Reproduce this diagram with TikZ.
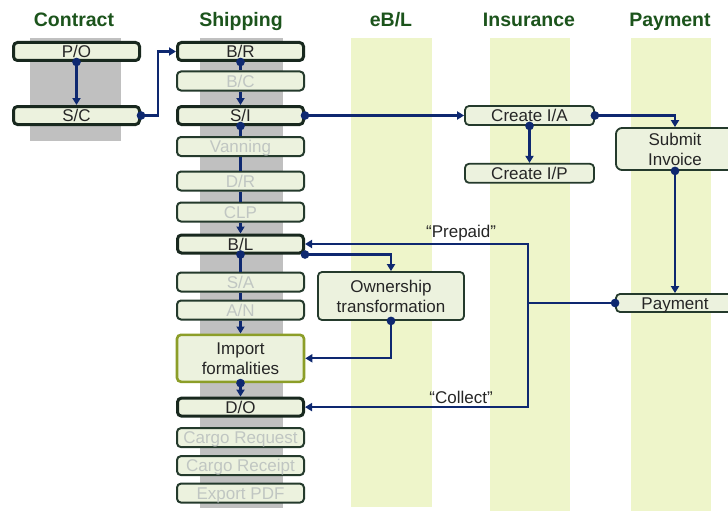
\documentclass[tikz,border=0pt]{standalone}
\usepackage{fontspec}
\setmainfont{Liberation Sans}
\usepackage{tikz}
\usetikzlibrary{arrows.meta, positioning}
\definecolor{navy}{RGB}{14,40,112}
\definecolor{boxfill}{RGB}{236,242,222}
\definecolor{boxdark}{RGB}{24,40,30}
\definecolor{boxline}{RGB}{36,58,44}
\definecolor{fainttext}{RGB}{192,198,194}
\definecolor{lanegreen}{RGB}{238,245,202}
\definecolor{lanegray}{RGB}{192,192,192}
\definecolor{headgreen}{RGB}{28,84,28}
\definecolor{olive}{RGB}{140,158,40}
\tikzset{
      base box/.style={
		draw=boxline,
		fill=boxfill,
		rounded corners=4pt,
		inner sep=1pt,
		text=black!85,
		font=\fontsize{17}{20}\selectfont,
		align=center,
	  },
      one line/.style={text height=14pt, text depth=1.8pt}, % same baseline in every box
      main box/.style={base box, one line, draw=boxdark, line width=3pt, minimum width=126pt, minimum height=18pt},
      faint box/.style={base box, one line, line width=2pt, text=fainttext, minimum width=127pt, minimum height=19pt},
      import box/.style={base box, draw=olive, line width=2.6pt, minimum width=127pt, minimum height=47pt},
      task box/.style={base box, line width=1.8pt, minimum width={#1}},
      task box/.default=129pt,
      head/.style={font=\fontsize{19.5}{22}\selectfont\bfseries, text=headgreen, anchor=base},
      gray lane/.style={fill=lanegray},
      green lane/.style={fill=lanegreen},
      link/.style={draw=navy, line width=2.3pt},
      flow/.style={link, -{Triangle[length=7pt, width=8pt]}},
      dot flow/.style={link, {Circle[length=8.5pt]}-{Triangle[length=7pt, width=8pt]}, shorten <=-4.25pt},
      dot link/.style={link, {Circle[length=8.5pt]}-, shorten <=-4.25pt},
      note/.style={font=\fontsize{17}{20}\selectfont, text=black!85, inner sep=2pt},
  	}
\begin{document}
\begin{tikzpicture}[x=1pt, y=-1pt]
    \fill[white] (0,0) rectangle (728,511);
    \useasboundingbox (0,0) rectangle (728,511);
    % lanes
    \fill[gray lane] (30,38) rectangle (121,141);
    \fill[gray lane] (200,38) rectangle (283,508);
    \fill[green lane] (351,38) rectangle (432,507);
    \fill[green lane] (490,38) rectangle (570,511);
    \fill[green lane] (631,38) rectangle (711,511);
    \node [head] (hcon) at (74,27) {Contract};
    \node [head] (hship) at (241,27) {Shipping};
    \node [head] (hebl) at (391,27) {eB/L};
    \node [head] (hins) at (529,27) {Insurance};
    \node [head] (hpay) at (670,27) {Payment};
    % contract
    \node [main box] (po) at (76.5,51.5) {P/O};
    \node [main box, below=43pt of po] (sc) {S/C};
    % shipping
    \node [main box] (br) at (240.5,51.5) {B/R};
    \node [faint box, below=8.5pt of br] (bc) {B/C};
    \node [main box, below=13.5pt of bc] (si) {S/I};
    \node [faint box, below=10pt of si] (van) {Vanning};
    \node [faint box, below=13.5pt of van] (dr) {D/R};
    \node [faint box, below=10pt of dr] (clp) {CLP};
    \node [main box, below=11pt of clp] (bl) {B/L};
    \node [faint box, below=17pt of bl] (sa) {S/A};
    \node [faint box, below=7pt of sa] (an) {A/N};
    \node [import box, below=13pt of an] (imp) {Import\\formalities};
    \node [main box, below=13.5pt of imp] (do) {D/O};
    \node [faint box, below=9.5pt of do] (creq) {Cargo Request};
    \node [faint box, below=7pt of creq] (crec) {Cargo Receipt};
    \node [faint box, below=6.5pt of crec] (pdf) {Export PDF};
    % eB/L
    \node [task box=146pt, minimum height=48pt] (own) at (391,296) {Ownership\\transformation};
    % insurance
    \node [task box=129pt, one line, minimum height=19pt] (cia) at (529.5,115.5) {Create I/A};
    \node [task box=129pt, one line, minimum height=19pt, below=37pt of cia] (cip) {Create I/P};
    % payment
    \node [task box=118pt, minimum height=42pt, rounded corners=6pt] (sub) at (675,149) {Submit\\Invoice};
    \node [task box=118pt, one line, minimum height=18pt] (pay) at (675,303) {Payment};
    % connectors
    \draw [dot flow] (po.south) -- (sc.north);
    \draw [dot flow] (sc.east) -- ++(17,0) |- (br.west);
    \draw [dot link] (br.south) -- (bc.north);
    \draw [flow] (bc.south) -- (si.north);
    \draw [dot link] (si.south) -- (van.north);
    \draw [link] (van.south) -- (dr.north);
    \draw [link] (dr.south) -- (clp.north);
    \draw [flow] (clp.south) -- (bl.north);
    \draw [dot link] (bl.south) -- (sa.north);
    \draw [link] (sa.south) -- (an.north);
    \draw [flow] (an.south) -- (imp.north);
    \draw [dot flow] (imp.south) -- (do.north);
    \draw [dot flow] (bl.south east) -| (own.north);
    \draw [dot flow] (own.south) |- (imp.east);
    \draw [dot flow] (si.east) -- (cia.west);
    \draw [dot flow] (cia.south) -- (cip.north);
    \draw [dot flow] (cia.east) -| (sub.north);
    \draw [dot flow] (sub.south) -- (pay.north);
    \coordinate (split) at (528,303);
    \draw [dot link] (pay.west) -- (split);
    \draw [flow] (split) |- node [note, pos=0.65, above] {“Prepaid”} (bl.east);
    \draw [flow] (split) |- node [note, pos=0.65, above] {“Collect”} (do.east);
  \end{tikzpicture}
\end{document}
